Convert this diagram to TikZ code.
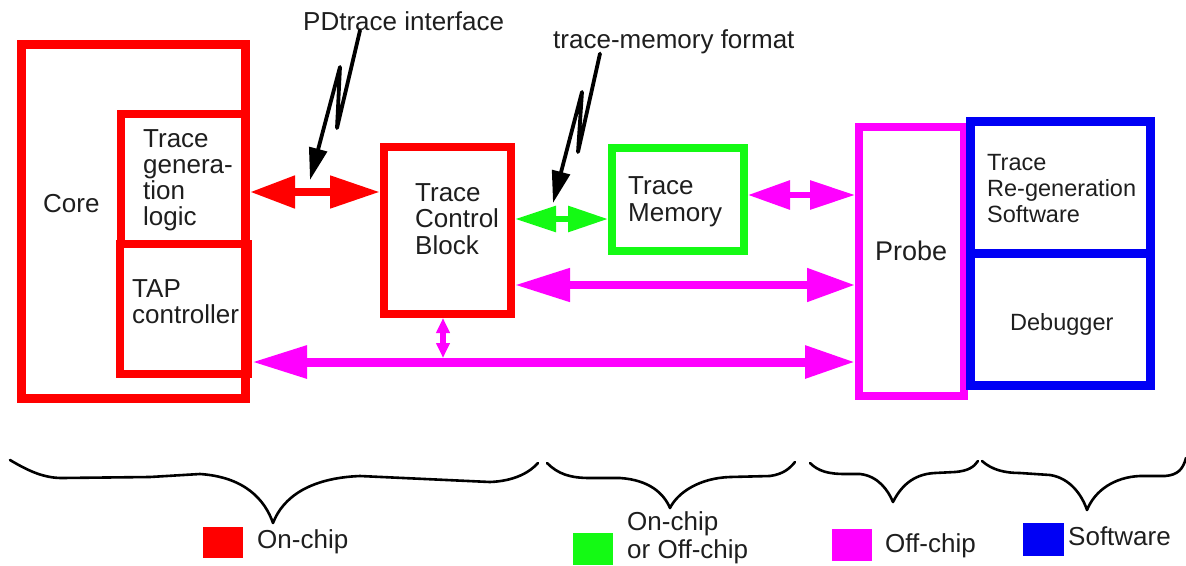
\documentclass[tikz,border=0pt]{standalone}
\usepackage{fontspec}
\setmainfont{Liberation Sans}
\usetikzlibrary{arrows.meta,calc}
\definecolor{cred}{RGB}{255,0,0}
\definecolor{cgreen}{RGB}{20,250,20}
\definecolor{cmag}{RGB}{255,0,255}
\definecolor{cblue}{RGB}{0,0,245}
\definecolor{ctext}{RGB}{30,30,30}
\tikzset{
  box/.style={draw=#1, fill=none, inner sep=0pt, line width=8pt},
  txt/.style={inner sep=0pt, anchor=base west, text=ctext, font=\fontsize{26}{26.5}\selectfont},
  smalltxt/.style={txt, font=\fontsize{23.5}{26}\selectfont},
  legsq/.style={fill=#1, draw=none, inner sep=0pt},
  bracepath/.style={line width=2.6pt, black, line cap=round, line join=round},
  callout/.style={line width=3.8pt, black, line join=round, line cap=round, -{Triangle[length=32pt,width=18pt]}},
}
\begin{document}
\begin{tikzpicture}[x=1pt,y=-1pt]
\useasboundingbox (0,0) rectangle (1186,565);
% boxes
\node[box=cred, line width=9pt, minimum width=224pt, minimum height=354pt] (core) at (133.5,221.5) {};
\node[box=cred, minimum width=125pt, minimum height=130pt] (tgl) at (183.5,179) {};
\node[box=cred, minimum width=128pt, minimum height=130pt] (tap) at (184,309) {};
\node[box=cred, minimum width=127pt, minimum height=167pt] (tcb) at (447.5,230.5) {};
\node[box=cgreen, minimum width=132pt, minimum height=103pt] (tm) at (678,199.5) {};
\node[box=cmag, minimum width=105pt, minimum height=269pt] (probe) at (911.5,261.5) {};
\node[box=cblue, line width=9pt, minimum width=180pt, minimum height=131.5pt] (trs) at (1060.5,187.25) {};
\node[box=cblue, line width=9pt, minimum width=180pt, minimum height=132.5pt] (dbg) at (1060.5,319.25) {};
% texts in boxes
\node[txt] (tcore) at (43,212) {Core};
\node[txt] (tgl1) at (143,147) {Trace};
\node[txt] (tgl2) at (143,173) {genera-};
\node[txt] (tgl3) at (143,199) {tion};
\node[txt] (tgl4) at (143,225) {logic};
\node[txt] (tap1) at (132,297) {TAP};
\node[txt] (tap2) at (132,323) {controller};
\node[txt] (tcb1) at (415,201) {Trace};
\node[txt] (tcb2) at (415,227) {Control};
\node[txt] (tcb3) at (415,254) {Block};
\node[txt] (tm1) at (628,194) {Trace};
\node[txt] (tm2) at (628,221) {Memory};
\node[txt, font=\fontsize{27}{27}\selectfont] (tprobe) at (875,260) {Probe};
\node[smalltxt] (trs1) at (987,170) {Trace};
\node[smalltxt] (trs2) at (987,196) {Re-generation};
\node[smalltxt] (trs3) at (987,222) {Software};
\node[smalltxt] (tdbg) at (1010,330) {Debugger};
% callout labels
\node[txt] (pdt) at (303,30) {PDtrace interface};
\node[txt] (tmf) at (553,48) {trace-memory format};
% connectors
\draw[cred, line width=8pt, {Triangle[length=45pt,width=31pt]}-{Triangle[length=50pt,width=31pt]}]
  (tgl.east |- 0,192) -- (tcb.west |- 0,192);
\draw[cgreen, line width=6pt, {Triangle[length=41pt,width=25pt]}-{Triangle[length=40pt,width=25pt]}]
  (tcb.east |- 0,219) -- (tm.west |- 0,219);
\draw[cmag, line width=6pt, {Triangle[length=42pt,width=28pt]}-{Triangle[length=45pt,width=28pt]}]
  (tm.east |- 0,195) -- (probe.west |- 0,195);
\draw[cmag, line width=8pt, {Triangle[length=55pt,width=32pt]}-{Triangle[length=48pt,width=32pt]}]
  (tcb.east |- 0,285) -- (probe.west |- 0,285);
\draw[cmag, line width=9pt, {Triangle[length=55pt,width=31pt]}-{Triangle[length=50pt,width=31pt]}]
  (tap.east |- 0,362) -- (probe.west |- 0,362);
\coordinate (jn) at (443,358);
\draw[cmag, line width=6pt, {Triangle[length=15pt,width=13pt]}-{Triangle[length=15pt,width=13pt]}]
  (443,0 |- tcb.south) -- (jn);
% callout lightning arrows
\coordinate (pdtip) at (310,180);
\coordinate (tmftip) at (553,203);
\draw[callout] (pdt.south -| 360,0) -- (337,128) -- (340,67) -- (pdtip);
\draw[callout] (tmf.south -| 600,0) -- (578,152) -- (582,92) -- (tmftip);
% braces
\draw[bracepath] (10,460) .. controls (30,472) and (45,478) .. (62,478) -- (150,477) -- (200,474)
  .. controls (245,477) and (265,500) .. (273,523)
  .. controls (283,497) and (310,478) .. (360,476) -- (490,482)
  .. controls (515,481) and (530,472) .. (538,463);
\draw[bracepath] (547,463) .. controls (558,474) and (570,478) .. (590,478) -- (620,478)
  .. controls (650,480) and (664,494) .. (670,508)
  .. controls (678,492) and (700,478) .. (730,477) -- (770,476)
  .. controls (784,474) and (790,468) .. (795,462);
\draw[bracepath] (810,463) .. controls (818,471) and (828,474) .. (845,474) -- (860,474)
  .. controls (878,476) and (888,490) .. (893,502)
  .. controls (900,488) and (912,474) .. (935,473) -- (955,472)
  .. controls (968,471) and (974,467) .. (978,461);
\draw[bracepath] (982,461) .. controls (992,470) and (1005,473) .. (1020,473) -- (1050,475)
  .. controls (1070,478) and (1082,495) .. (1087,510)
  .. controls (1095,490) and (1115,477) .. (1140,476) -- (1165,476)
  .. controls (1178,475) and (1183,469) .. (1186,458);
% legend
\node[legsq=cred, minimum width=40pt, minimum height=31pt] (lgr) at (223,542.5) {};
\node[txt] (lgrt) at (257,548) {On-chip};
\node[legsq=cgreen, minimum width=40pt, minimum height=32pt] (lgg) at (593,549) {};
\node[txt] (lggt1) at (627,530) {On-chip};
\node[txt] (lggt2) at (627,558) {or Off-chip};
\node[legsq=cmag, minimum width=40pt, minimum height=32pt] (lgm) at (852,545) {};
\node[txt] (lgmt) at (885,552) {Off-chip};
\node[legsq=cblue, minimum width=41pt, minimum height=33pt] (lgb) at (1043.5,539.5) {};
\node[txt] (lgbt) at (1068,545) {Software};
\end{tikzpicture}
\end{document}
